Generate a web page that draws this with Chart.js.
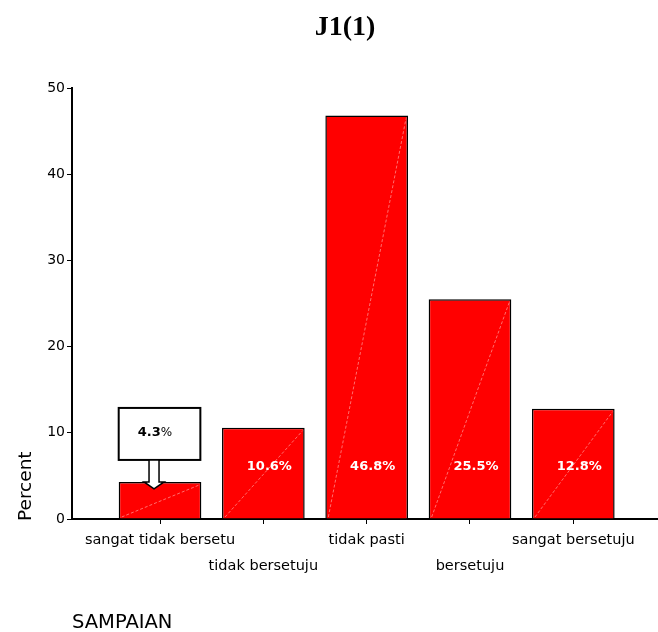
<!DOCTYPE html>
<html>
<head>
<meta charset="utf-8">
<script src="https://cdn.jsdelivr.net/npm/chart.js@4"></script>
<style>
  html, body { margin: 0; padding: 0; background: #fff; }
  #wrap { width: 658px; height: 632px; }
</style>
</head>
<body>
<div id="wrap"><canvas id="chart" width="658" height="632"></canvas></div>
<script>
// data
const categories = ['sangat tidak bersetu', 'tidak bersetuju', 'tidak pasti', 'bersetuju', 'sangat bersetuju'];
const percents = [4.3, 10.6, 46.8, 25.5, 12.8];
const yTicks = [0, 10, 20, 30, 40, 50];
const chartTitle = 'J1(1)';
const xTitle = 'SAMPAIAN';
const yTitle = 'Percent';

const FONT = "'DejaVu Sans', Verdana, sans-serif";

// title, axis titles, the value labels and the callout box
const decor = {
  id: 'decor',
  afterDatasetsDraw(chart) {
    const ctx = chart.ctx;
    const meta = chart.getDatasetMeta(0);
    const y = chart.scales.y;
    const base = y.getPixelForValue(0);

    ctx.save();
    // faint diagonal streak the export left in every bar
    ctx.strokeStyle = 'rgba(255,200,200,0.55)';
    ctx.lineWidth = 1;
    ctx.setLineDash([3, 2]);
    meta.data.forEach(bar => {
      const l = bar.x - bar.width / 2, r = bar.x + bar.width / 2;
      ctx.beginPath();
      ctx.moveTo(l + 3, base - 2);
      ctx.lineTo(r - 2, bar.y + 3);
      ctx.stroke();
    });
    ctx.setLineDash([]);

    // labels inside bars
    ctx.fillStyle = '#fff';
    ctx.font = 'bold 13px ' + FONT;
    ctx.textAlign = 'center';
    ctx.textBaseline = 'middle';
    meta.data.forEach((bar, i) => {
      if (i === 0) return;
      ctx.fillText(percents[i].toFixed(1) + '%', bar.x + 6, base - 52);
    });

    // callout for the small first bar
    const b0 = meta.data[0];
    const bl = b0.x - b0.width / 2;
    const bw = b0.width;
    const boxBottom = b0.y - 22;
    const boxTop = boxBottom - 52;
    const ax = b0.x - 6;
    ctx.fillStyle = '#fff';
    ctx.strokeStyle = '#000';
    ctx.lineWidth = 2;
    ctx.fillRect(bl, boxTop, bw - 1, boxBottom - boxTop);
    ctx.strokeRect(bl, boxTop, bw - 1, boxBottom - boxTop);
    // hollow arrow
    const headTop = b0.y;
    const tip = b0.y + 7;
    ctx.beginPath();
    ctx.moveTo(ax - 5, boxBottom);
    ctx.lineTo(ax - 5, headTop);
    ctx.lineTo(ax - 10, headTop);
    ctx.lineTo(ax, tip);
    ctx.lineTo(ax + 10, headTop);
    ctx.lineTo(ax + 5, headTop);
    ctx.lineTo(ax + 5, boxBottom);
    ctx.closePath();
    ctx.fillStyle = '#fff';
    ctx.fill();
    ctx.lineWidth = 1.5;
    ctx.stroke();
    // "4.3" bold + "%" normal
    const num = percents[0].toFixed(1);
    ctx.font = 'bold 13px ' + FONT;
    const w1 = ctx.measureText(num).width;
    ctx.font = '12px ' + FONT;
    const w2 = ctx.measureText('%').width;
    let tx = b0.x - 5 - (w1 + w2) / 2;
    ctx.fillStyle = '#000';
    ctx.textAlign = 'left';
    ctx.font = 'bold 13px ' + FONT;
    ctx.fillText(num, tx, boxTop + 25);
    ctx.font = '12px ' + FONT;
    ctx.fillText('%', tx + w1, boxTop + 25);

    // chart title
    ctx.fillStyle = '#000';
    ctx.font = 'bold 28px "Liberation Serif", "Times New Roman", serif';
    ctx.textAlign = 'center';
    ctx.textBaseline = 'alphabetic';
    ctx.fillText(chartTitle, 345, 35);

    // x title, bottom left
    ctx.font = '19.5px ' + FONT;
    ctx.textAlign = 'left';
    ctx.fillText(xTitle, 72, 628);

    // y title, rotated, sitting low on the axis
    ctx.font = '18.5px ' + FONT;
    ctx.translate(31, 521);
    ctx.rotate(-Math.PI / 2);
    ctx.fillText(yTitle, 0, 0);
    ctx.restore();
  }
};

const ctx = document.getElementById('chart').getContext('2d');
new Chart(ctx, {
  type: 'bar',
  data: {
    datasets: [{
      data: percents.map((v, i) => ({ x: i + 1, y: v })),
      backgroundColor: '#ff0000',
      borderColor: '#000',
      borderWidth: 1.5,
      barPercentage: 0.8,
      categoryPercentage: 1
    }]
  },
  options: {
    responsive: false,
    animation: false,
    layout: { padding: { top: 88, right: 1, left: 0, bottom: 0 } },
    plugins: {
      legend: { display: false },
      tooltip: { enabled: false }
    },
    scales: {
      x: {
        type: 'linear',
        offset: false,
        min: 0.148,
        max: 5.81,
        afterBuildTicks: s => { s.ticks = categories.map((c, i) => ({ value: i + 1 })); },
        afterFit: s => { s.height = 113; },
        grid: { offset: false, drawOnChartArea: false, drawTicks: true, tickLength: 5, color: '#000', lineWidth: 1 },
        border: { color: '#000', width: 2 },
        ticks: {
          autoSkip: false,
          maxRotation: 0,
          padding: 4,
          color: '#000',
          font: { family: FONT, size: 14.5, lineHeight: 1.75 },
          callback: (v, i) => i % 2 === 0 ? categories[i] : ['', categories[i]]
        }
      },
      y: {
        min: 0,
        max: 50,
        afterBuildTicks: s => { s.ticks = yTicks.map(v => ({ value: v })); },
        afterFit: s => { s.width = 72; },
        grid: { drawOnChartArea: false, drawTicks: true, tickLength: 5, color: '#000', lineWidth: 1 },
        border: { color: '#000', width: 2 },
        ticks: {
          padding: 2,
          color: '#000',
          font: { family: FONT, size: 14 }
        }
      }
    }
  },
  plugins: [decor]
});
</script>
</body>
</html>
